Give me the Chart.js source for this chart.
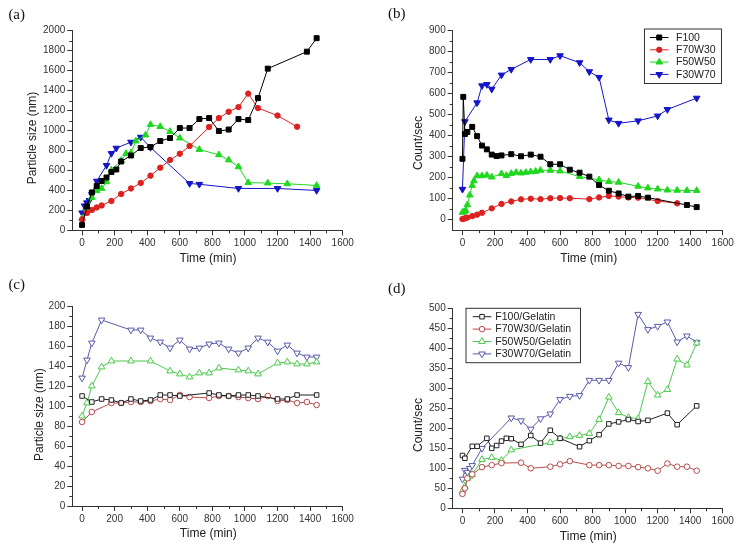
<!DOCTYPE html>
<html>
<head>
<meta charset="utf-8">
<script src="https://cdn.jsdelivr.net/npm/chart.js@4.4.1/dist/chart.umd.min.js"></script>
<style>
  html, body { margin: 0; padding: 0; background: #fff; }
  #wrap { position: relative; width: 740px; height: 551px; }
  canvas { position: absolute; }
</style>
</head>
<body>
<div id="wrap">
  <canvas id="pa" width="370" height="275" style="left:0;top:0"></canvas>
  <canvas id="pb" width="370" height="275" style="left:370px;top:0"></canvas>
  <canvas id="pc" width="370" height="276" style="left:0;top:275px"></canvas>
  <canvas id="pd" width="370" height="276" style="left:370px;top:275px"></canvas>
</div>
<script>
// ---- (a) particle size, no gelatin ----
const aTimeF100 = [0, 30, 60, 90, 120, 150, 180, 210, 240, 300, 360, 420, 480, 540, 600, 660, 720, 780, 840, 900, 960, 1020, 1080, 1140, 1380, 1440];
const aSizeF100 = [55, 240, 380, 445, 495, 530, 585, 610, 690, 750, 825, 835, 895, 925, 1025, 1025, 1115, 1125, 995, 1010, 1115, 1105, 1325, 1620, 1790, 1925];
const aTimeF70 = [0, 30, 60, 90, 120, 180, 240, 300, 360, 420, 480, 540, 600, 660, 780, 840, 900, 960, 1020, 1080, 1200, 1320];
const aSizeF70 = [110, 175, 205, 230, 250, 295, 365, 420, 475, 548, 628, 705, 768, 845, 1035, 1125, 1188, 1235, 1370, 1225, 1150, 1038];
const aTimeF50 = [0, 30, 60, 90, 120, 150, 180, 240, 270, 300, 330, 390, 420, 480, 540, 600, 720, 840, 900, 960, 1020, 1140, 1260, 1440];
const aSizeF50 = [120, 205, 330, 397, 420, 487, 604, 700, 770, 775, 895, 955, 1060, 1040, 990, 925, 810, 757, 705, 637, 478, 474, 467, 450];
const aTimeF30 = [0, 15, 30, 45, 60, 90, 150, 180, 210, 300, 360, 420, 660, 720, 960, 1200, 1440];
const aSizeF30 = [176, 246, 277, 300, 360, 494, 651, 771, 824, 884, 934, 831, 470, 462, 420, 420, 400];

// ---- (b) count rate, no gelatin ----
const bTimeF100 = [0, 5, 15, 30, 60, 90, 120, 150, 180, 210, 240, 300, 360, 420, 480, 540, 600, 660, 720, 780, 840, 900, 960, 1020, 1080, 1140, 1380, 1440];
const bCountF100 = [290, 585, 408, 418, 442, 398, 353, 335, 310, 303, 306, 312, 302, 310, 300, 264, 264, 238, 224, 205, 165, 138, 125, 110, 113, 105, 70, 60];
const bTimeF70 = [0, 10, 20, 30, 60, 90, 120, 180, 240, 300, 360, 420, 480, 540, 600, 660, 780, 840, 900, 960, 1020, 1080, 1200, 1320];
const bCountF70 = [3, 5, 8, 10, 17, 24, 33, 54, 75, 87, 97, 100, 98, 102, 103, 102, 98, 106, 113, 110, 106, 105, 89, 78];
const bTimeF50 = [0, 10, 20, 30, 45, 60, 70, 90, 120, 150, 180, 240, 270, 300, 330, 360, 390, 420, 450, 480, 540, 600, 720, 840, 900, 960, 1080, 1140, 1200, 1260, 1320, 1380, 1440];
const bCountF50 = [35, 38, 44, 71, 117, 163, 185, 209, 209, 212, 203, 219, 210, 220, 225, 222, 225, 228, 230, 235, 235, 232, 205, 190, 181, 178, 159, 151, 146, 141, 140, 139, 139];
const bTimeF30 = [0, 15, 90, 120, 150, 180, 240, 300, 420, 540, 600, 720, 780, 840, 900, 960, 1080, 1200, 1260, 1440];
const bCountF30 = [145, 467, 557, 638, 644, 622, 689, 716, 763, 763, 781, 748, 705, 678, 475, 459, 471, 494, 525, 579];

// ---- (c) particle size, with gelatin ----
const cTimeF100 = [0, 60, 120, 180, 240, 300, 360, 420, 480, 540, 600, 780, 840, 900, 960, 1020, 1080, 1200, 1260, 1320, 1440];
const cSizeF100 = [110, 104, 107, 106, 103, 107, 105, 106, 111, 111, 110, 113, 111, 110, 111, 111, 110, 107, 107, 111, 111];
const cTimeF70 = [0, 60, 180, 240, 300, 360, 420, 480, 540, 600, 660, 780, 840, 900, 960, 1020, 1080, 1140, 1200, 1260, 1320, 1380, 1440];
const cSizeF70 = [84, 94, 103, 103, 104, 104, 105, 107, 106, 111, 109, 108, 110, 110, 109, 108, 107, 110, 105, 106, 103, 104, 101];
const cTimeF50 = [0, 30, 60, 120, 180, 300, 420, 540, 600, 660, 720, 780, 840, 960, 1020, 1080, 1200, 1260, 1320, 1380, 1440];
const cSizeF50 = [90, 103, 120, 139, 145, 145, 145, 135, 132, 129, 133, 133, 138, 136, 135, 132, 143, 144, 142, 142, 144];
const cTimeF30 = [0, 30, 60, 120, 300, 360, 420, 480, 540, 600, 660, 720, 780, 840, 900, 960, 1020, 1080, 1140, 1200, 1260, 1320, 1380, 1440];
const cSizeF30 = [128, 146, 163, 186, 176, 176, 168, 164, 158, 166, 157, 158, 162, 163, 157, 153, 158, 168, 164, 155, 161, 153, 149, 149];

// ---- (d) count rate, with gelatin ----
const dTimeF100 = [0, 15, 60, 90, 150, 180, 210, 240, 270, 300, 360, 420, 480, 540, 600, 720, 780, 840, 900, 960, 1020, 1080, 1140, 1260, 1320, 1440];
const dCountF100 = [132, 125, 155, 155, 175, 150, 157, 168, 175, 174, 160, 182, 163, 195, 175, 154, 169, 184, 211, 216, 222, 217, 220, 238, 209, 256];
const dTimeF70 = [0, 15, 30, 60, 120, 180, 240, 360, 420, 540, 600, 660, 780, 840, 900, 960, 1020, 1080, 1140, 1200, 1260, 1320, 1380, 1440];
const dCountF70 = [36, 50, 75, 85, 103, 108, 113, 114, 100, 104, 110, 118, 108, 108, 108, 106, 106, 103, 100, 94, 112, 104, 104, 94];
const dTimeF50 = [0, 15, 30, 45, 60, 120, 180, 240, 300, 540, 600, 660, 720, 780, 840, 900, 960, 1020, 1080, 1140, 1200, 1260, 1320, 1380, 1440];
const dCountF50 = [44, 55, 75, 80, 84, 122, 127, 120, 146, 164, 174, 179, 182, 187, 222, 278, 239, 227, 224, 317, 283, 297, 373, 358, 413];
const dTimeF30 = [0, 15, 30, 45, 60, 120, 300, 360, 420, 480, 540, 600, 660, 720, 780, 840, 900, 960, 1020, 1080, 1140, 1200, 1260, 1320, 1380, 1440];
const dCountF30 = [73, 95, 90, 100, 107, 150, 226, 219, 198, 224, 236, 272, 280, 282, 320, 320, 320, 363, 352, 485, 447, 455, 466, 416, 431, 415];

const labelsPlain = ["F100", "F70W30", "F50W50", "F30W70"];
const labelsGel = ["F100/Gelatin", "F70W30/Gelatin", "F50W50/Gelatin", "F30W70/Gelatin"];

const SANS = "'Liberation Sans', Arial, sans-serif";
const SERIF = "'Liberation Serif', 'Times New Roman', serif";
const INK = "#333";

function pts(t, v) {
  return t.map((x, i) => ({ x: x, y: v[i] }));
}

function ser(label, t, v, color, style, radius, filled, rot) {
  return {
    label: label,
    data: pts(t, v),
    borderColor: color,
    borderWidth: 1,
    pointStyle: style,
    pointRotation: rot || 0,
    pointRadius: radius,
    pointBackgroundColor: filled ? color : "#fff",
    pointBorderColor: color,
    pointBorderWidth: 1,
    showLine: true,
    fill: false,
    tension: 0,
    clip: false
  };
}

// minor ticks, axis titles, panel letter and framed legend
const decor = {
  id: "decor",
  afterDraw(chart, args, o) {
    const ctx = chart.ctx;
    const ca = chart.chartArea;
    const xs = chart.scales.x, ys = chart.scales.y;
    ctx.save();
    ctx.strokeStyle = INK;
    ctx.lineWidth = 1;
    ctx.beginPath();
    for (let v = o.xMinor; v < xs.max; v += 2 * o.xMinor) {
      const px = Math.round(xs.getPixelForValue(v)) + 0.5;
      ctx.moveTo(px, ca.bottom);
      ctx.lineTo(px, ca.bottom + 3);
    }
    for (let v = o.yMinor; v < ys.max; v += 2 * o.yMinor) {
      const py = Math.round(ys.getPixelForValue(v)) + 0.5;
      ctx.moveTo(ca.left, py);
      ctx.lineTo(ca.left - 3, py);
    }
    ctx.stroke();

    ctx.fillStyle = "#222";
    ctx.font = "12px " + SANS;
    ctx.textAlign = "center";
    ctx.textBaseline = "middle";
    ctx.fillText(o.xTitle, o.xTitlePos[0], o.xTitlePos[1]);
    ctx.save();
    ctx.translate(o.yTitlePos[0], o.yTitlePos[1]);
    ctx.rotate(-Math.PI / 2);
    ctx.fillText(o.yTitle, 0, 0);
    ctx.restore();

    ctx.font = "15px " + SERIF;
    ctx.fillStyle = "#111";
    ctx.fillText(o.letter, o.letterPos[0], o.letterPos[1]);

    if (o.legend) {
      const L = o.legend;
      ctx.strokeStyle = INK;
      ctx.strokeRect(L.box[0] + 0.5, L.box[1] + 0.5, L.box[2] - L.box[0], L.box[3] - L.box[1]);
      ctx.font = "10.5px " + SANS;
      ctx.textAlign = "left";
      chart.data.datasets.forEach((ds, i) => {
        const y = L.rows[i];
        ctx.strokeStyle = ds.borderColor;
        ctx.beginPath();
        ctx.moveTo(L.lx1, y);
        ctx.lineTo(L.lx2, y);
        ctx.stroke();
        ctx.fillStyle = ds.pointBackgroundColor;
        ctx.strokeStyle = ds.pointBorderColor;
        Chart.helpers.drawPoint(ctx, {
          pointStyle: ds.pointStyle,
          rotation: ds.pointRotation,
          radius: ds.pointRadius,
          borderWidth: 1
        }, (L.lx1 + L.lx2) / 2, y);
        ctx.fillStyle = "#222";
        ctx.fillText(ds.label, L.tx, y + 0.5);
      });
    }
    ctx.restore();
  }
};

function makeChart(id, datasets, area, xr, yr, deco) {
  const cv = document.getElementById(id);
  const W = cv.width, H = cv.height;
  const axisCommon = {
    type: "linear",
    border: { display: true, color: INK, width: 1 },
    grid: { drawOnChartArea: false, drawTicks: true, tickLength: 5, color: INK },
    ticks: {
      font: { size: 10, family: SANS },
      color: INK,
      padding: 2,
      maxRotation: 0,
      autoSkip: false,
      callback: (v) => String(v)
    }
  };
  return new Chart(cv, {
    type: "line",
    data: { datasets: datasets },
    options: {
      responsive: false,
      animation: false,
      events: [],
      layout: { padding: { left: 0, top: area.t, right: W - area.r, bottom: 0 } },
      scales: {
        x: Object.assign({}, axisCommon, {
          min: xr.min, max: xr.max,
          afterBuildTicks: (s) => {
            const t = [];
            for (let v = 0; v <= xr.max; v += xr.step) t.push({ value: v });
            s.ticks = t;
          },
          afterFit: (s) => { s.height = H - area.b; }
        }),
        y: Object.assign({}, axisCommon, {
          min: yr.min, max: yr.max,
          afterBuildTicks: (s) => {
            const t = [];
            for (let v = 0; v <= yr.max; v += yr.step) t.push({ value: v });
            s.ticks = t;
          },
          afterFit: (s) => { s.width = area.l; }
        })
      },
      plugins: {
        legend: { display: false },
        tooltip: { enabled: false },
        decor: deco
      }
    },
    plugins: [decor]
  });
}

// colours
const cBlack = "#000000", cRed = "#dd2020", cGreen = "#1fd81f", cBlue = "#1414c8";
const gBlack = "#222222", gRed = "#b84c4c", gGreen = "#4cc84c", gBlue = "#5a5aa8";

makeChart("pa", [
  ser(labelsPlain[0], aTimeF100, aSizeF100, cBlack, "rect", 3.5, true),
  ser(labelsPlain[1], aTimeF70, aSizeF70, cRed, "circle", 2.7, true),
  ser(labelsPlain[2], aTimeF50, aSizeF50, cGreen, "triangle", 3.8, true),
  ser(labelsPlain[3], aTimeF30, aSizeF30, cBlue, "triangle", 3.8, true, 180)
], { l: 72.3, t: 30.7, r: 342.7, b: 230.4 },
  { min: -60, max: 1600, step: 200 }, { min: 0, max: 2000, step: 200 },
  { xMinor: 100, yMinor: 100, xTitle: "Time (min)", yTitle: "Particle size (nm)",
    xTitlePos: [208, 259], yTitlePos: [33, 138], letter: "(a)", letterPos: [16.7, 15] });

makeChart("pb", [
  ser(labelsPlain[0], bTimeF100, bCountF100, cBlack, "rect", 3.5, true),
  ser(labelsPlain[1], bTimeF70, bCountF70, cRed, "circle", 2.7, true),
  ser(labelsPlain[2], bTimeF50, bCountF50, cGreen, "triangle", 3.8, true),
  ser(labelsPlain[3], bTimeF30, bCountF30, cBlue, "triangle", 3.8, true, 180)
], { l: 82.7, t: 30.7, r: 352.7, b: 230.2 },
  { min: -60, max: 1600, step: 200 }, { min: -50, max: 900, step: 100 },
  { xMinor: 100, yMinor: 50, xTitle: "Time (min)", yTitle: "Count/sec",
    xTitlePos: [218.7, 259], yTitlePos: [48.3, 143], letter: "(b)", letterPos: [26.7, 14.5],
    legend: { box: [274, 28.5, 351, 83], rows: [37.5, 49.8, 62.1, 74.4], lx1: 280, lx2: 298.5, tx: 306 } });

makeChart("pc", [
  ser(labelsGel[0], cTimeF100, cSizeF100, gBlack, "rect", 3.2, false),
  ser(labelsGel[1], cTimeF70, cSizeF70, gRed, "circle", 2.8, false),
  ser(labelsGel[2], cTimeF50, cSizeF50, gGreen, "triangle", 3.8, false),
  ser(labelsGel[3], cTimeF30, cSizeF30, gBlue, "triangle", 3.8, false, 180)
], { l: 72.3, t: 31, r: 342.7, b: 231 },
  { min: -60, max: 1600, step: 200 }, { min: 0, max: 200, step: 20 },
  { xMinor: 100, yMinor: 10, xTitle: "Time (min)", yTitle: "Particle size (nm)",
    xTitlePos: [208.3, 259], yTitlePos: [39.3, 139.7], letter: "(c)", letterPos: [16.7, 10] });

makeChart("pd", [
  ser(labelsGel[0], dTimeF100, dCountF100, gBlack, "rect", 3.2, false),
  ser(labelsGel[1], dTimeF70, dCountF70, gRed, "circle", 2.8, false),
  ser(labelsGel[2], dTimeF50, dCountF50, gGreen, "triangle", 3.8, false),
  ser(labelsGel[3], dTimeF30, dCountF30, gBlue, "triangle", 3.8, false, 180)
], { l: 82.7, t: 33.3, r: 352.7, b: 233.3 },
  { min: -60, max: 1600, step: 200 }, { min: 0, max: 500, step: 50 },
  { xMinor: 100, yMinor: 25, xTitle: "Time (min)", yTitle: "Count/sec",
    xTitlePos: [218.3, 262], yTitlePos: [48.3, 150], letter: "(d)", letterPos: [26.7, 14.5],
    legend: { box: [95.5, 32.8, 210, 87.2], rows: [41.7, 54.1, 66.5, 78.9], lx1: 102.7, lx2: 121.3, tx: 125.3 } });
</script>
</body>
</html>
